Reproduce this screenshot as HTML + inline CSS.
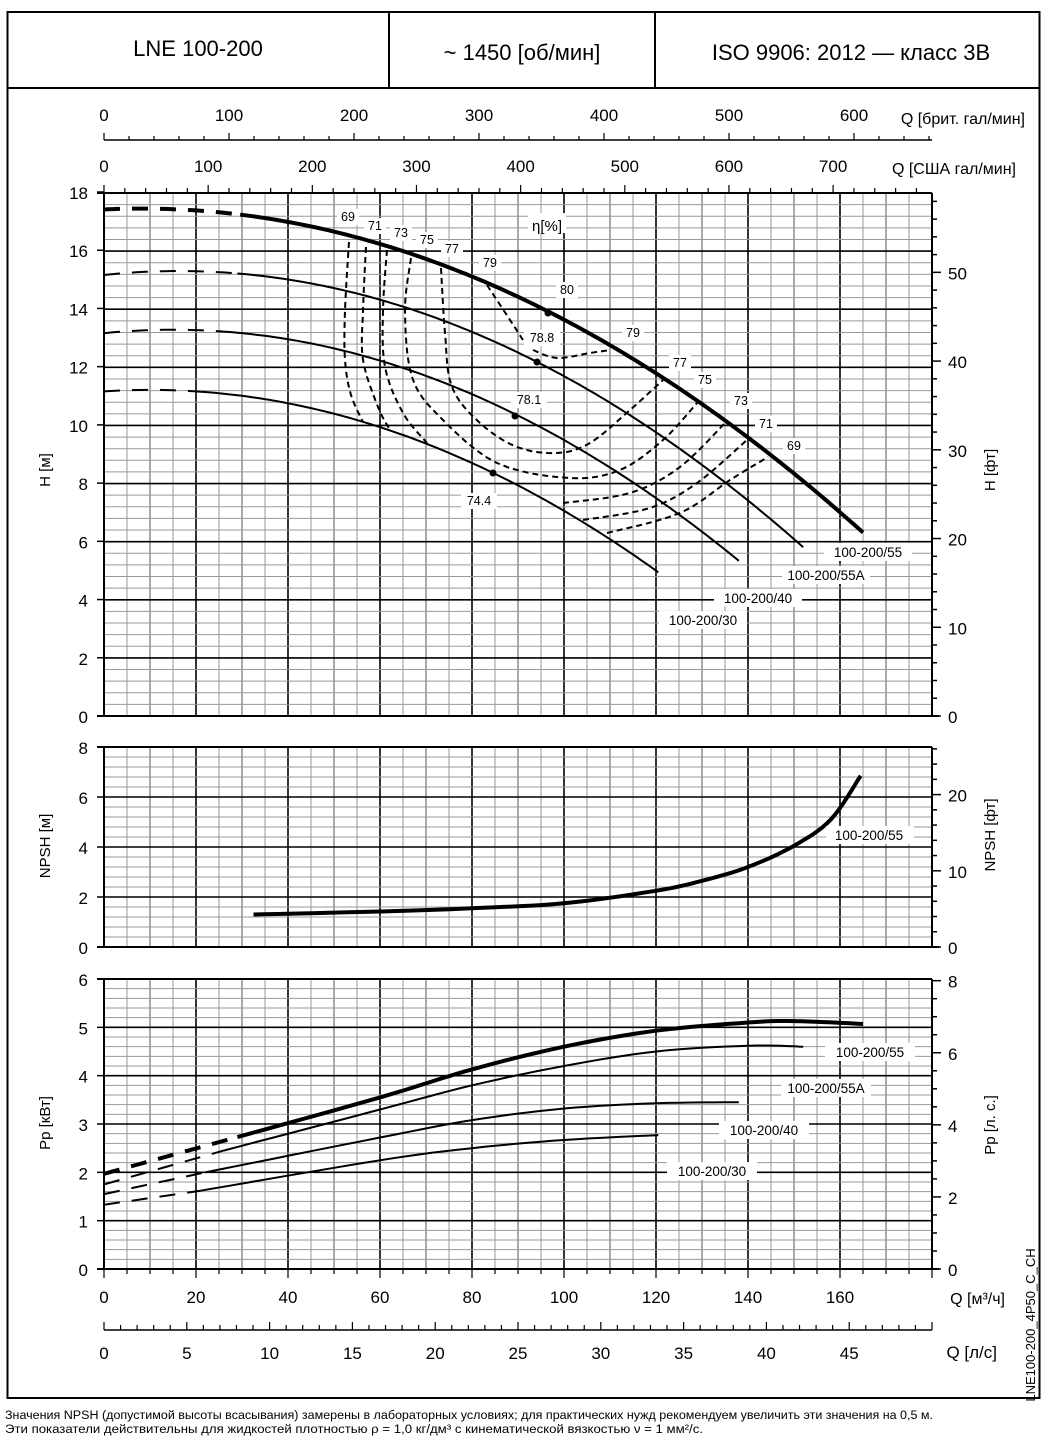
<!DOCTYPE html>
<html><head><meta charset="utf-8"><style>
html,body{margin:0;padding:0;background:#fff}
svg{display:block}
text{font-family:"Liberation Sans",sans-serif}
</style></head><body>
<svg id="s" width="1045" height="1442" xmlns="http://www.w3.org/2000/svg"></svg>
<script>
const S=document.getElementById('s');let h='';
const X=q=>104+q*4.6;
const HY=v=>716-v*29.111, NY=v=>947-v*25, PY=v=>1269-v*48.33;
function L(x1,y1,x2,y2,w,c,d){h+=`<line x1="${x1}" y1="${y1}" x2="${x2}" y2="${y2}" stroke="${c||'#000'}" stroke-width="${w||1}"${d?` stroke-dasharray="${d}"`:''}/>`;}
function T(x,y,s,fs,a,extra){h+=`<text x="${x}" y="${y}" font-size="${fs}" text-anchor="${a||'middle'}" ${extra||''}>${s}</text>`;}
function P(pts,w,d){h+=`<polyline fill="none" stroke="#000" stroke-width="${w}" stroke-linejoin="round"${d?` stroke-dasharray="${d}"`:''} points="${pts.map(p=>p[0].toFixed(1)+','+p[1].toFixed(1)).join(' ')}"/>`;}
function box(x,y,w,hh){h+=`<rect x="${x}" y="${y}" width="${w}" height="${hh}" fill="#fff"/>`;}
h+='<rect x="7.5" y="12" width="1032" height="1386" fill="none" stroke="#000" stroke-width="2"/>';
L(7,88,1040,88,2);L(389,12,389,88,2);L(655,12,655,88,2);
T(198,56,'LNE 100-200',22);T(522,60,'~ 1450 [об/мин]',22);T(851,60,'ISO 9906: 2012 — класс 3В',22);
function grid(top,bot,ny,majEvery){
 for(let q=0;q<=180;q+=5){const x=X(q);const maj=q%20==0;L(x,top,x,bot,maj?1.6:1,maj?'#000':(q%10==0?'#555':'#999'));}
 for(let i=0;i<=ny;i++){const y=top+(bot-top)*i/ny;const maj=i%majEvery==0;L(104,y,932,y,maj?1.6:1,maj?'#000':'#999');}
 L(104,top,104,bot,2);L(932,top,932,bot,2);L(97,top,932,top,2);L(97,bot,939,bot,2);
}
grid(193,716,45,5);grid(747,947,20,5);grid(979,1269,30,5);
for(let v=0;v<=18;v+=2){L(97,HY(v),104,HY(v),1.5);T(88,HY(v)+7,v,17,'end');}
for(let v=0;v<=8;v+=2){L(97,NY(v),104,NY(v),1.5);T(88,NY(v)+7,v,17,'end');}
for(let v=0;v<=6;v++){L(97,PY(v),104,PY(v),1.5);T(88,PY(v)+7,v,17,'end');}
for(let f=0;f<=58;f+=2){const y=716-f*0.3048*29.111;if(y<193)break;L(932,y,f%10==0?941:937,y,1.5);if(f%10==0)T(948,y+7,f,17,'start');}
for(let f=0;f<=26;f+=2){const y=947-f*0.3048*25;if(y<747)break;L(932,y,f%10==0?941:937,y,1.5);if(f%10==0)T(948,y+7,f,17,'start');}
for(let f=0;f<=8;f+=0.5){const y=1269-f*0.7457*48.33;if(y<978)break;L(932,y,f%2==0?941:937,y,1.5);if(f%2==0)T(948,y+7,f,17,'start');}
T(0,0,'H [м]',15,'middle','transform="translate(50,470) rotate(-90)"');
T(0,0,'NPSH [м]',15,'middle','transform="translate(50,846) rotate(-90)"');
T(0,0,'Pp [кВт]',15,'middle','transform="translate(50,1123) rotate(-90)"');
T(0,0,'H [фт]',15,'middle','transform="translate(995,470) rotate(-90)"');
T(0,0,'NPSH [фт]',15,'middle','transform="translate(995,835) rotate(-90)"');
T(0,0,'Pp [л. с.]',15,'middle','transform="translate(995,1125) rotate(-90)"');
T(0,0,'LNE100-200_4P50_C_CH',13,'middle','transform="translate(1035,1325) rotate(-90)"');
L(104,140,932,140,1.5);
for(let g=0;g<=660;g+=20){const x=104+g*1.25;if(x>932)break;L(x,140,x,g%100==0?133:136,1.2);}
for(let g=0;g<=600;g+=100)T(104+g*1.25,121,g,17);
T(1025,124,'Q [брит. гал/мин]',16,'end');
for(let g=0;g<=790;g+=20){const x=104+g*1.0416;if(x>932)break;L(x,193,x,g%100==0?185:188,1.2);}
for(let g=0;g<=700;g+=100)T(104+g*1.0416,172,g,17);
T(1016,174,'Q [США гал/мин]',16,'end');
for(let q=0;q<=180;q+=5)L(X(q),1269,X(q),q%20==0?1278:1274,1.2);
for(let q=0;q<=160;q+=20)T(X(q),1303,q,17);
T(1005,1304,'Q [м³/ч]',16,'end');
L(104,1330,932,1330,1.5);
for(let l=0;l<=50;l++){const x=104+l*16.56;if(x>933)break;L(x,1330,x,l%5==0?1322:1325,1.2);}
for(let l=0;l<=45;l+=5)T(104+l*16.56,1359,l,17);
T(997,1358,'Q [л/с]',17,'end');
T(5,1419,'Значения NPSH (допустимой высоты всасывания) замерены в лабораторных условиях; для практических нужд рекомендуем увеличить эти значения на 0,5 м.',12.4,'start','textLength="928" lengthAdjust="spacingAndGlyphs"');
T(5,1433,'Эти показатели действительны для жидкостей плотностью ρ = 1,0 кг/дм³ с кинематической вязкостью ν = 1 мм²/с.',12.4,'start','textLength="698" lengthAdjust="spacingAndGlyphs"');
function hc(a,b,c,q1,qs,w){const f=q=>[X(q),HY(a+b*q+c*q*q)];let d=[],s=[];
 for(let q=0;q<=qs;q+=1)d.push(f(q));for(let q=qs;q<=q1;q+=1)s.push(f(q));s.push(f(q1));
 P(d,w,'16,12');P(s,w);}
hc(17.4,0.00741,-0.0004526,165,29.6,4);
hc(15.15,0.01672,-0.0005147,152,29,2);
hc(13.15,0.0158,-0.000525,138,26,2);
hc(11.15,0.01038,-0.000514,120.5,21,2);
function smooth(pts,n){let out=[];for(let i=0;i<pts.length-1;i++){const p0=pts[Math.max(0,i-1)],p1=pts[i],p2=pts[i+1],p3=pts[Math.min(pts.length-1,i+2)];for(let t=0;t<1;t+=1/n){const t2=t*t,t3=t2*t;const f=k=>0.5*((2*p1[k])+(-p0[k]+p2[k])*t+(2*p0[k]-5*p1[k]+4*p2[k]-p3[k])*t2+(-p0[k]+3*p1[k]-3*p2[k]+p3[k])*t3);out.push([f(0),f(1)]);}}out.push(pts[pts.length-1]);return out;}
const E=[
[[349,242],[345,310],[345,360],[351,395],[363,422]],
[[607,533],[680,513],[730,480],[768,457]],
[[366,247],[363,310],[363,360],[378,407],[390,430]],
[[583,520],[650,508],[697,483],[747,440]],
[[387,250],[383,310],[385,367],[403,413],[427,443]],
[[563,503],[630,493],[680,467],[725,423]],
[[411,258],[405,310],[412,377],[440,417],[497,463],[570,478],[620,470],[663,440],[697,403]],
[[441,268],[445,333],[452,387],[480,423],[517,447],[557,453],[590,443],[630,410],[663,380]],
[[487,285],[510,320],[523,340]],
[[533,350],[557,358],[590,353],[610,350]]];
E.forEach(p=>P(smooth(p,6),2,'6,4'));
[[548,313],[537,362],[515,416],[493,473]].forEach(p=>h+=`<circle cx="${p[0]}" cy="${p[1]}" r="3.5"/>`);
const EL=[[348,221,'69'],[375,230,'71'],[401,237,'73'],[427,244,'75'],[452,253,'77'],[490,267,'79'],[567,294,'80'],[633,337,'79'],[542,342,'78.8'],[680,367,'77'],[705,384,'75'],[741,405,'73'],[766,428,'71'],[794,450,'69'],[529,404,'78.1'],[479,505,'74.4']];
EL.forEach(e=>{const w=e[2].length*7+8;box(e[0]-w/2,e[1]-12,w,16);T(e[0],e[1],e[2],12.5);});
box(528,213,38,20);T(547,231,'η[%]',15);
[[868,557,'100-200/55'],[826,580,'100-200/55A'],[758,603,'100-200/40'],[703,625,'100-200/30']].forEach(e=>{box(e[0]-44,e[1]-14,88,18);T(e[0],e[1],e[2],13.5);});
P(smooth([[32.5,1.3],[60,1.42],[80,1.55],[100,1.75],[120,2.25],[130,2.65],[140,3.2],[150,4.05],[158,5.1],[164.5,6.85]].map(p=>[X(p[0]),NY(p[1])]),8),4);
box(826,826,88,18);T(869,840,'100-200/55',13.5);
function pc(dash,sol,w){P(smooth(dash.map(p=>[X(p[0]),PY(p[1])]),6),w,'16,12');P(smooth(sol.map(p=>[X(p[0]),PY(p[1])]),8),w);}
pc([[0,1.97],[29,2.73]],[[29,2.73],[60,3.55],[80,4.13],[100,4.6],[120,4.93],[140,5.1],[150,5.13],[165,5.07]],4);
pc([[0,1.75],[26,2.45]],[[26,2.45],[60,3.3],[80,3.8],[100,4.2],[120,4.5],[140,4.62],[152,4.6]],2);
pc([[0,1.55],[22,2.0]],[[22,2.0],[60,2.72],[80,3.08],[100,3.32],[120,3.43],[138,3.45]],2);
pc([[0,1.33],[21,1.62]],[[21,1.62],[60,2.25],[80,2.5],[100,2.67],[120.5,2.77]],2);
[[870,1057,'100-200/55'],[826,1093,'100-200/55A'],[764,1135,'100-200/40'],[712,1176,'100-200/30']].forEach(e=>{box(e[0]-45,e[1]-14,90,18);T(e[0],e[1],e[2],13.5);});
S.innerHTML=h;
</script>
</body></html>
